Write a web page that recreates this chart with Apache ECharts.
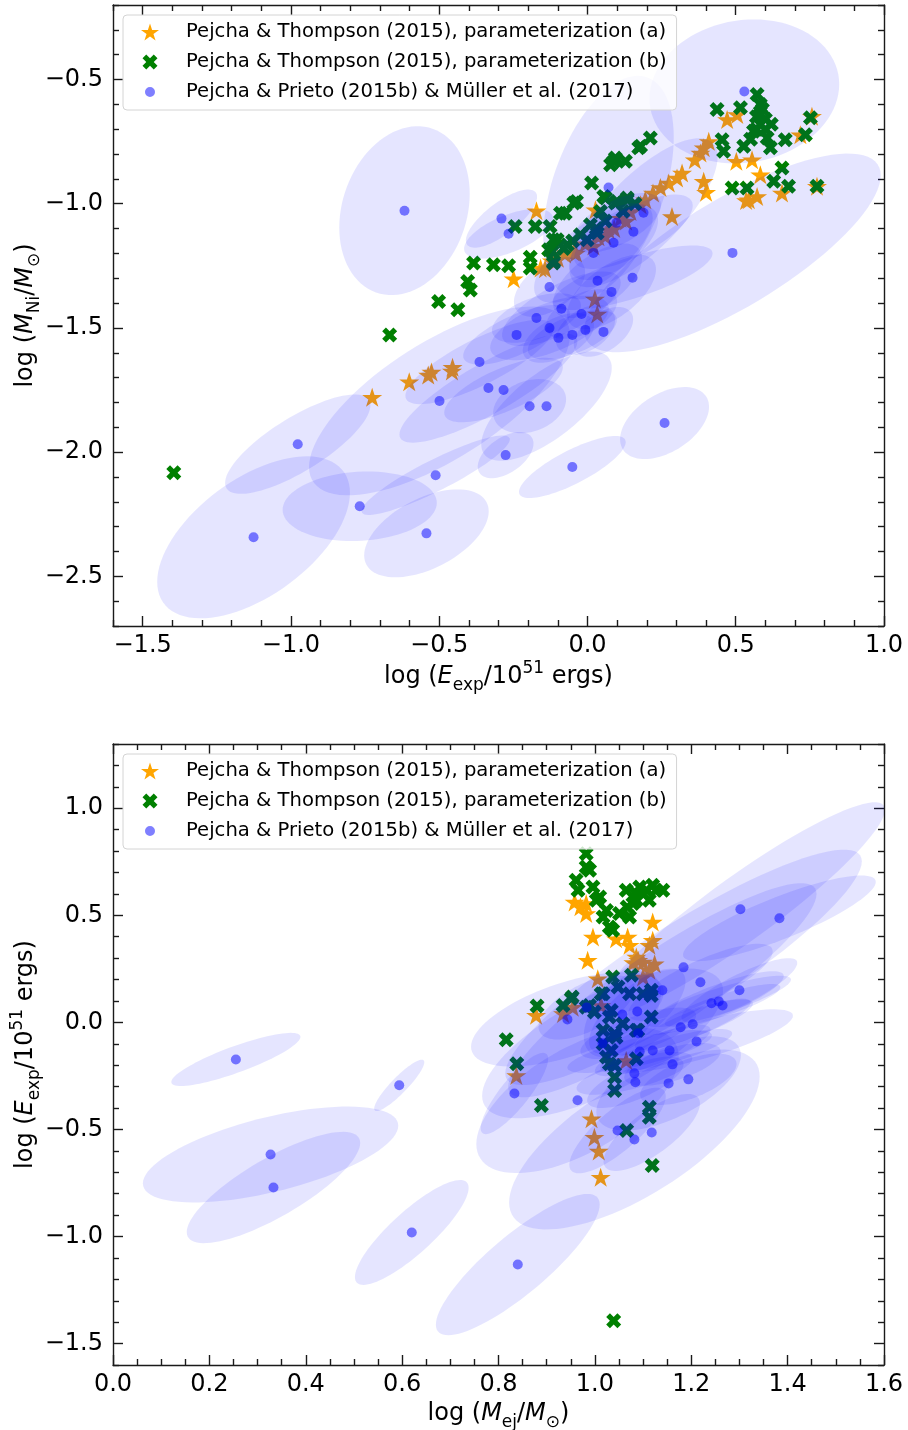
<!DOCTYPE html>
<html><head><meta charset="utf-8">
<script src="https://cdn.jsdelivr.net/npm/echarts@6/dist/echarts.min.js"></script>
<style>html,body{margin:0;padding:0;background:#fff}#c{width:908px;height:1430px}</style>
</head><body><div id="c"></div>
<script>
// ---------------- DATA ----------------
const seriesNames = ['Pejcha & Thompson (2015), parameterization (a)', 'Pejcha & Thompson (2015), parameterization (b)', 'Pejcha & Prieto (2015b) & Müller et al. (2017)'];

// Top panel: x = log(E_exp/1e51 erg), y = log(M_Ni/Msun)
const topStars = [[-0.726,-1.779],[-0.601,-1.717],[-0.537,-1.690],[-0.526,-1.677],[-0.455,-1.658],[-0.457,-1.673],
[-0.249,-1.302],[-0.172,-1.028],[-0.143,-1.262],[-0.158,-1.259],[-0.076,-1.202],[-0.039,-1.198],[-0.047,-1.194],
[-0.10,-1.22],[-0.12,-1.23],[-0.007,-1.161],[0.02,-1.17],[0.037,-1.133],[0.06,-1.13],[0.071,-1.105],[0.09,-1.10],[0.13,-1.07],[0.027,-1.024],[0.025,-1.384],[0.033,-1.444],
[0.111,-1.058],[0.145,-1.031],[0.179,-1.004],[0.195,-0.984],[0.221,-0.957],[0.246,-0.935],[0.274,-0.917],[0.302,-0.896],[0.319,-0.876],[0.285,-1.051],
[0.362,-0.823],[0.381,-0.796],[0.392,-0.775],[0.409,-0.749],[0.471,-0.661],[0.505,-0.641],
[0.392,-0.910],[0.400,-0.954],[0.502,-0.829],[0.555,-0.823],[0.583,-0.883],[0.544,-0.984],[0.572,-0.971],[0.535,-0.987],[0.656,-0.957],[0.718,-0.722],[0.757,-0.648],[0.774,-0.930]];

const topCrosses = [[-1.395,-2.083],[-0.667,-1.528],[-0.502,-1.394],[-0.437,-1.427],[-0.404,-1.313],[-0.395,-1.347],[-0.384,-1.239],[-0.317,-1.246],[-0.266,-1.250],[-0.193,-1.215],[-0.193,-1.259],[-0.244,-1.092],[-0.176,-1.092],[-0.126,-1.092],[-0.115,-1.145],[-0.131,-1.185],[-0.115,-1.239],[-0.075,-1.038],[-0.037,-0.991],[0.014,-0.917],[-0.102,-1.145],
[0.212,-0.735],[0.179,-0.769],[0.173,-0.775],[0.128,-0.829],[0.089,-0.829],[0.094,-0.816],[0.078,-0.843],[0.061,-0.977],[0.055,-0.971],[0.100,-0.991],[0.094,-0.997],[0.134,-0.984],[0.134,-0.977],[0.044,-1.031],[0.010,-1.085],[-0.024,-1.125],[-0.068,-1.165],[-0.119,-1.192],[-0.114,-1.233],
[-0.091,-1.038],[-0.046,-0.997],[-0.001,-1.145],[0.033,-1.118],[0.03,-1.10],[0.06,-1.07],[0.12,-1.03],[0.16,-1.00],[-0.05,-1.15],[-0.08,-1.18],
[0.437,-0.621],[0.516,-0.614],[0.572,-0.560],[0.583,-0.601],[0.583,-0.641],[0.583,-0.681],[0.560,-0.708],[0.527,-0.769],[0.606,-0.735],[0.617,-0.775],[0.667,-0.742],[0.454,-0.742],[0.459,-0.789],[0.488,-0.937],[0.538,-0.937],[0.628,-0.910],[0.656,-0.856],[0.678,-0.930],[0.752,-0.654],[0.735,-0.722],[0.774,-0.930],
[0.59,-0.62],[0.60,-0.66],[0.57,-0.70],[0.55,-0.74],[0.60,-0.70],[0.57,-0.65],[0.62,-0.68]];

// observed SNe: [x, y, sigma_x, sigma_y, correlation]
const topObs = [[-0.617,-1.028,0.22,0.34,0.2],[-0.290,-1.060,0.12,0.117,0.75],[-0.266,-1.121,0.15,0.10,0.6],[-0.128,-1.335,0.12,0.12,0.5],
[0.020,-1.198,0.20,0.20,0.7],[0.034,-1.310,0.15,0.15,0.6],[-0.172,-1.460,0.15,0.10,0.5],[-0.088,-1.423,0.20,0.15,0.7],[-0.020,-1.444,0.12,0.10,0.5],
[-0.128,-1.500,0.20,0.13,0.6],[-0.007,-1.508,0.10,0.10,0.4],[-0.239,-1.528,0.18,0.12,0.7],[-0.098,-1.540,0.12,0.10,0.5],[-0.051,-1.528,0.15,0.10,0.6],
[0.152,-1.298,0.27,0.13,0.75],[0.081,-1.355,0.15,0.15,0.6],[0.054,-1.516,0.10,0.10,0.5],[-0.364,-1.637,0.25,0.17,0.8],[-0.334,-1.742,0.30,0.22,0.85],
[-0.283,-1.750,0.20,0.13,0.7],[-0.195,-1.815,0.123,0.109,0.25],[-0.138,-1.815,0.22,0.22,0.7],[-0.276,-2.012,0.094,0.093,0.5],[-0.051,-2.060,0.18,0.125,0.8],
[0.260,-1.883,0.15,0.145,0.45],[0.489,-1.198,0.50,0.40,0.78],[-0.499,-1.794,0.44,0.38,0.7],[-0.977,-1.968,0.245,0.20,0.78],[-0.512,-2.093,0.25,0.16,0.9],
[-0.768,-2.218,0.26,0.14,0.1],[-1.126,-2.343,0.325,0.326,0.55],[-0.543,-2.327,0.21,0.177,0.5],[0.529,-0.548,0.32,0.29,0.1],[0.071,-0.935,0.22,0.45,0.45],
[0.189,-1.036,0.25,0.30,0.75],[0.098,-1.077,0.15,0.12,0.6],[0.155,-1.113,0.20,0.15,0.7],[0.088,-1.157,0.15,0.15,0.6]];

// Bottom panel: x = log(M_ej/Msun), y = log(E_exp/1e51 erg)
const botStars = [[0.958,0.562],[0.982,0.555],[0.97,0.54],[0.982,0.508],[0.996,0.399],[1.044,0.391],[1.068,0.399],[1.072,0.360],[1.120,0.469],[1.120,0.383],[1.113,0.360],
[0.985,0.290],[1.006,0.204],[1.086,0.305],[1.100,0.282],[1.124,0.274],[1.113,0.243],[1.100,0.212],[1.09,0.29],[1.08,0.28],
[0.878,0.033],[0.934,0.041],[0.954,0.071],[1.013,0.079],[1.065,-0.178],[0.837,-0.248],[0.993,-0.450],[0.999,-0.536],[1.008,-0.601],[1.012,-0.723]];

const botCrosses = [[0.982,0.788],[0.982,0.726],[0.989,0.710],[0.961,0.664],[0.965,0.617],[0.996,0.632],[1.010,0.586],[1.003,0.570],[1.024,0.523],[1.017,0.492],[1.030,0.445],[1.037,0.430],
[1.051,0.508],[1.072,0.492],[1.067,0.539],[1.065,0.617],[1.086,0.601],[1.093,0.632],[1.107,0.617],[1.120,0.640],[1.127,0.617],[1.141,0.617],[1.113,0.570],[1.086,0.570],[1.079,0.555],
[0.951,0.111],[0.934,0.079],[0.989,0.079],[1.017,0.134],[1.034,0.056],[1.041,-0.053],[1.034,-0.131],[1.041,-0.201],[1.041,-0.256],[1.041,-0.318],[1.086,-0.170],[1.089,-0.037],
[1.117,0.126],[1.117,0.025],[1.113,-0.396],[1.113,-0.443],[1.066,-0.505],[1.119,-0.668],[0.889,-0.388],[0.816,-0.081],[0.838,-0.193],[0.880,0.076],
[1.037,0.212],[1.076,0.220],[1.048,0.165],[1.013,0.134],[1.072,0.134],[1.100,0.134],[1.117,0.150],[1.030,0.025],[1.017,-0.037],[1.017,-0.100],[1.024,-0.162],[1.030,-0.193],
[1.086,-0.037],[1.044,-0.069],[1.058,-0.006],[1.039,-1.393],[0.982,0.071],[0.999,0.048],[0.953,0.118]];

const botObs = [[0.255,-0.173,0.134,0.124,0.85],[0.594,-0.294,0.052,0.12,0.9],[0.327,-0.617,0.265,0.224,0.6],[0.333,-0.771,0.18,0.26,0.8],
[0.620,-0.981,0.118,0.245,0.85],[0.840,-1.131,0.17,0.33,0.85],[0.833,-0.332,0.07,0.19,0.85],[0.964,-0.364,0.21,0.34,0.6],
[0.943,0.014,0.20,0.22,0.58],[0.983,0.070,0.10,0.15,0.6],[1.057,0.037,0.08,0.20,0.5],[1.088,0.051,0.10,0.20,0.7],[1.090,-0.051,0.12,0.12,0.7],
[1.016,-0.098,0.25,0.35,0.7],[1.093,-0.136,0.15,0.10,0.75],[1.120,-0.131,0.12,0.12,0.8],[1.155,-0.131,0.13,0.10,0.8],[1.178,-0.023,0.15,0.13,0.85],
[1.203,-0.009,0.12,0.12,0.85],[1.211,-0.089,0.20,0.15,0.8],[1.161,-0.196,0.10,0.10,0.6],[1.082,-0.238,0.12,0.10,0.7],[1.084,-0.280,0.10,0.12,0.7],
[1.153,-0.285,0.15,0.22,0.6],[1.194,-0.266,0.10,0.12,0.6],[1.047,-0.505,0.10,0.20,0.8],[1.082,-0.547,0.26,0.42,0.7],[1.118,-0.514,0.10,0.18,0.75],
[1.140,0.150,0.32,0.50,0.9],[1.242,0.089,0.15,0.15,0.85],[1.302,0.528,0.30,0.50,0.93],[1.383,0.486,0.20,0.20,0.85],[1.184,0.257,0.37,0.55,0.9],
[1.219,0.187,0.15,0.18,0.8],[1.300,0.150,0.12,0.15,0.85],[1.257,0.098,0.15,0.12,0.85],[1.265,0.079,0.12,0.10,0.85]];

// tick values
const topXMajor = [-1.5,-1.0,-0.5,0.0,0.5,1.0];
const topXMinor = [-1.6,-1.4,-1.3,-1.2,-1.1,-0.9,-0.8,-0.7,-0.6,-0.4,-0.3,-0.2,-0.1,0.1,0.2,0.3,0.4,0.6,0.7,0.8,0.9];
const topYMajor = [-2.5,-2.0,-1.5,-1.0,-0.5];
const topYMinor = [-2.7,-2.6,-2.4,-2.3,-2.2,-2.1,-1.9,-1.8,-1.7,-1.6,-1.4,-1.3,-1.2,-1.1,-0.9,-0.8,-0.7,-0.6,-0.4,-0.3,-0.2];
const botXMajor = [0.0,0.2,0.4,0.6,0.8,1.0,1.2,1.4,1.6];
const botXMinor = [0.05,0.1,0.15,0.25,0.3,0.35,0.45,0.5,0.55,0.65,0.7,0.75,0.85,0.9,0.95,1.05,1.1,1.15,1.25,1.3,1.35,1.45,1.5,1.55];
const botYMajor = [-1.5,-1.0,-0.5,0.0,0.5,1.0];
const botYMinor = [-1.6,-1.4,-1.3,-1.2,-1.1,-0.9,-0.8,-0.7,-0.6,-0.4,-0.3,-0.2,-0.1,0.1,0.2,0.3,0.4,0.6,0.7,0.8,0.9,1.1,1.2,1.3];

// ---------------- STYLE ----------------
function starPath(){let p='';for(let k=0;k<10;k++){const r=k%2?0.382:1;const a=(-90+k*36)*Math.PI/180;p+=(k?'L':'M')+(r*Math.cos(a)).toFixed(4)+' '+(r*Math.sin(a)).toFixed(4)+' ';}return 'path://'+p+'Z';}
const STAR = starPath();
const CROSS = 'path://M-1 -2L0 -1L1 -2L2 -1L1 0L2 1L1 2L0 1L-1 2L-2 1L-1 0L-2 -1Z';
const CROSS_LEG = 'path://M-2.4 -2.4L-2.39 -2.4L-2.4 -2.39Z M2.4 2.4L2.39 2.4L2.4 2.39Z M-1 -2L0 -1L1 -2L2 -1L1 0L2 1L1 2L0 1L-1 2L-2 1L-1 0L-2 -1Z';
const DOT_LEG = 'path://M-9 -9L-8.99 -9L-9 -8.99Z M9 9L8.99 9L9 8.99Z M5 0A5 5 0 1 1 -5 0A5 5 0 1 1 5 0Z';
const ORANGE = '#ffa500', GREEN = '#008000', DOTC = 'rgba(0,0,255,0.5)', ELLC = 'rgba(0,0,255,0.1)';
const AX = '#1a1a1a', FONT = 'DejaVu Sans';
const rich = {
  n:{fontSize:24,fontFamily:FONT,color:'#000',lineHeight:34},
  i:{fontSize:24,fontFamily:FONT,fontStyle:'italic',color:'#000',lineHeight:34},
  sub:{fontSize:17,fontFamily:FONT,color:'#000',lineHeight:17,verticalAlign:'bottom'},
  sup:{fontSize:17,fontFamily:FONT,color:'#000',lineHeight:17,verticalAlign:'top'}
};
const fmt = v => (v < -1e-9 ? '\u2212' : '') + Math.abs(v).toFixed(1);

function mkAxes(kind, gi, min, max, major, minor, name, nameGap) {
  const posA = kind==='x'?'bottom':'left', posB = kind==='x'?'top':'right';
  const base = {type:'value', gridIndex:gi, min, max, splitLine:{show:false}};
  const line = {show:true, onZero:false, lineStyle:{color:AX, width:1.4}};
  const noline = {show:false, onZero:false};
  const tick = (vals,len)=>({show:true, inside:true, length:len, customValues:vals, lineStyle:{color:AX, width:1.4}});
  return [
    Object.assign({}, base, {position:posA, axisLine:line, axisTick:tick(major,10),
      axisLabel:{show:true, customValues:major, formatter:fmt, fontSize:24, fontFamily:FONT, color:'#000', margin: kind==='x'?8:10},
      name, nameLocation:'middle', nameGap, nameMoveOverlap:false, nameTextStyle:{rich}}),
    Object.assign({}, base, {position:posA, axisLine:noline, axisTick:tick(minor,6), axisLabel:{show:false}}),
    Object.assign({}, base, {position:posB, axisLine:line, axisTick:tick(major,10), axisLabel:{show:false}}),
    Object.assign({}, base, {position:posB, axisLine:noline, axisTick:tick(minor,6), axisLabel:{show:false}})
  ];
}

function ellipseRender(params, api) {
  const cx=api.value(0), cy=api.value(1), sx=api.value(2), sy=api.value(3), r=api.value(4);
  const q=Math.sqrt(1-r*r), pts=[];
  for (let i=0;i<90;i++){const t=i/90*2*Math.PI; pts.push(api.coord([cx+sx*Math.cos(t), cy+sy*(r*Math.cos(t)+q*Math.sin(t))]));}
  const cs = params.coordSys;
  return {type:'group', clipPath:{type:'rect', shape:{x:cs.x,y:cs.y,width:cs.width,height:cs.height}},
    children:[{type:'polygon', shape:{points:pts}, style:{fill:ELLC, stroke:null}}]};
}

function mkSeries(xi, yi, stars, crosses, obs, tag) {
  return [
    {name:seriesNames[0], type:'scatter', z:2, xAxisIndex:xi, yAxisIndex:yi, data:stars, symbol:STAR, symbolSize:[20,19], itemStyle:{color:ORANGE, opacity:1}, silent:true},
    {name:seriesNames[1], type:'scatter', z:3, xAxisIndex:xi, yAxisIndex:yi, data:crosses, symbol:CROSS, symbolSize:15, itemStyle:{color:GREEN, opacity:1}, silent:true},
    {name:'ell'+tag, type:'custom', z:4, xAxisIndex:xi, yAxisIndex:yi, data:obs, dimensions:['x','y','sx','sy','rho'], encode:{x:0,y:1}, renderItem:ellipseRender, silent:true},
    {name:seriesNames[2], type:'scatter', z:5, xAxisIndex:xi, yAxisIndex:yi, data:obs.map(o=>[o[0],o[1]]), symbol:'circle', symbolSize:10, itemStyle:{color:DOTC, opacity:1}, silent:true}
  ];
}

function mkLegend(top) {
  return {show:true, orient:'vertical', left:123, top, padding:[7,10,8,18], itemWidth:18, itemHeight:18, itemGap:10,
    backgroundColor:'rgba(255,255,255,0.8)', borderColor:'#d4d4d4', borderWidth:1, borderRadius:4, selectedMode:false, z:20,
    textStyle:{fontSize:19.6, fontFamily:FONT, color:'#000', padding:[0,0,0,22]},
    data:[{name:seriesNames[0], icon:STAR, itemStyle:{color:ORANGE}},
          {name:seriesNames[1], icon:CROSS_LEG, itemStyle:{color:GREEN}},
          {name:seriesNames[2], icon:DOT_LEG, itemStyle:{color:DOTC}}]};
}

const option = {
  animation:false, backgroundColor:'#fff',
  grid:[{left:113, top:5, width:771, height:621, outerBoundsMode:'none', containLabel:false},
        {left:113, top:744, width:771, height:621, outerBoundsMode:'none', containLabel:false}],
  xAxis:[...mkAxes('x',0,-1.6,1.0,topXMajor,topXMinor,'{n|log (}{i|E}{sub|exp}{n|/10}{sup|51}{n| ergs)}',34),
         ...mkAxes('x',1,0,1.6,botXMajor,botXMinor,'{n|log (}{i|M}{sub|ej}{n|/}{i|M}{sub|\u2299}{n|)}',32)],
  yAxis:[...mkAxes('y',0,-2.7,-0.2,topYMajor,topYMinor,'{n|log (}{i|M}{sub|Ni}{n|/}{i|M}{sub|\u2299}{n|)}',70),
         ...mkAxes('y',1,-1.6,1.3,botYMajor,botYMinor,'{n|log (}{i|E}{sub|exp}{n|/10}{sup|51}{n| ergs)}',70)],
  legend:[mkLegend(15), mkLegend(754)],
  series:[...mkSeries(0,0,topStars,topCrosses,topObs,'T'), ...mkSeries(4,4,botStars,botCrosses,botObs,'B')]
};
const chart = echarts.init(document.getElementById('c'), null, {renderer:'canvas'});
chart.setOption(option);
</script></body></html>
